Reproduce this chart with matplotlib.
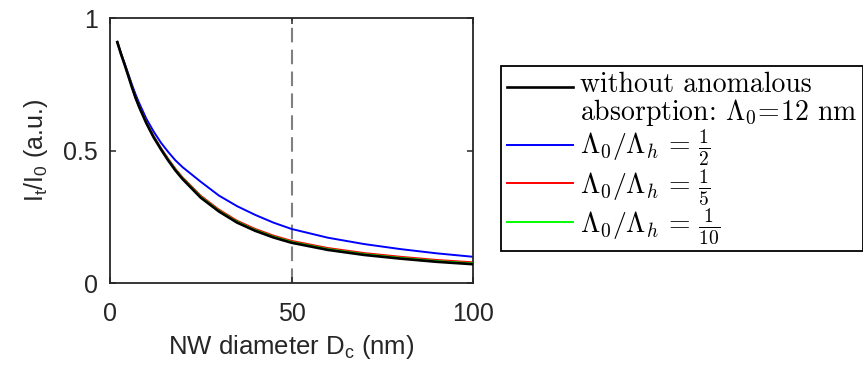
import matplotlib
matplotlib.use('Agg')
import matplotlib.pyplot as plt
from matplotlib.font_manager import FontProperties
from matplotlib.legend_handler import HandlerLine2D

# NW diameter (nm) and transmitted intensity I_t/I_0 for each case
dc = [2, 3, 4, 5, 6, 7, 8, 10, 12, 14, 16, 18, 20, 25, 30, 35, 40, 45, 50, 60, 70, 80, 90, 100]
it_ref = [0.909, 0.865, 0.825, 0.783, 0.740, 0.700, 0.665, 0.603, 0.550, 0.505, 0.463, 0.425,
          0.392, 0.322, 0.270, 0.228, 0.197, 0.172, 0.152, 0.125, 0.106, 0.092, 0.080, 0.071]
it_h2 = [0.910, 0.868, 0.829, 0.790, 0.750, 0.713, 0.680, 0.620, 0.572, 0.530, 0.495, 0.463,
         0.437, 0.382, 0.330, 0.290, 0.257, 0.228, 0.204, 0.171, 0.147, 0.128, 0.112, 0.099]
it_h5 = [0.909, 0.865, 0.826, 0.784, 0.742, 0.702, 0.668, 0.607, 0.555, 0.510, 0.469, 0.431,
         0.398, 0.329, 0.277, 0.235, 0.204, 0.179, 0.159, 0.132, 0.113, 0.099, 0.087, 0.078]
it_h10 = [0.909, 0.865, 0.825, 0.783, 0.741, 0.701, 0.666, 0.605, 0.552, 0.507, 0.466, 0.428,
          0.395, 0.325, 0.273, 0.231, 0.200, 0.175, 0.155, 0.128, 0.109, 0.095, 0.083, 0.074]
d_mark = 50

rotulos = ['without anomalous\n' + r'absorption: $\Lambda_0\!=\!12$ nm',
           r'$\Lambda_0/\Lambda_h\,=\,\frac{1}{2}$',
           r'$\Lambda_0/\Lambda_h\,=\,\frac{1}{5}$',
           r'$\Lambda_0/\Lambda_h\,=\,\frac{1}{10}$']

plt.rcParams['font.family'] = ['Liberation Sans', 'DejaVu Sans']
plt.rcParams['mathtext.fontset'] = 'custom'
plt.rcParams['mathtext.rm'] = 'Liberation Sans'
plt.rcParams['mathtext.it'] = 'Liberation Sans:italic'

cinza = (0.15, 0.15, 0.15)


# traço da legenda alinhado com a primeira linha do rótulo
class TracoTopo(HandlerLine2D):
    def __init__(self, dy, **kw):
        super().__init__(**kw)
        self.dy = dy

    def create_artists(self, legend, orig_handle, xdescent, ydescent, width, height, fontsize, trans):
        arts = super().create_artists(legend, orig_handle, xdescent, ydescent, width, height, fontsize, trans)
        for a in arts:
            a.set_ydata([y + self.dy * fontsize for y in a.get_ydata()])
        return arts


fig = plt.figure(figsize=(8.63, 3.72), dpi=100)
ax = fig.add_axes([0.1275, 0.2392, 0.4206, 0.7124])

# linha tracejada em D_c = 50 nm
ax.axvline(d_mark, color=(0.5, 0.5, 0.5), lw=1.5, dashes=(7, 3.5), zorder=1)

l2, = ax.plot(dc, it_h2, color=(0, 0, 1), lw=1.4, zorder=2)
l5, = ax.plot(dc, it_h5, color=(1, 0, 0), lw=1.4, zorder=2)
l10, = ax.plot(dc, it_h10, color=(0, 1, 0), lw=1.4, zorder=3)
l0, = ax.plot(dc, it_ref, color='k', lw=1.9, zorder=4)

ax.set_xlim(0, 100)
ax.set_ylim(0, 1)
ax.set_xticks([0, 50, 100])
ax.set_yticks([0, 0.5, 1])
ax.set_yticklabels(['0', '0.5', '1'])
ax.tick_params(direction='in', length=4, width=1.1, top=True, right=True,
               labelsize=18, colors=cinza)
ax.tick_params(axis='x', pad=14)
ax.tick_params(axis='y', pad=9)
for s in ax.spines.values():
    s.set_color(cinza)
    s.set_linewidth(1.3)

ax.set_xlabel(r'NW diameter D$_\mathrm{c}$ (nm)', fontsize=18.5, color=cinza, labelpad=5)
ax.set_ylabel(r'I$_\mathrm{t}$/I$_\mathrm{0}$ (a.u.)', fontsize=18, color=cinza, labelpad=9)

# legenda em fonte Computer Modern
fp = FontProperties(family='cmr10', size=20, math_fontfamily='cm')
leg = fig.legend([l0, l2, l5, l10], rotulos, loc='upper left',
                 bbox_to_anchor=(501 / 863, 1 - 66 / 372), prop=fp,
                 fancybox=False, framealpha=1, edgecolor='k',
                 handlelength=2.4, handletextpad=0.25, labelspacing=-0.04,
                 borderpad=0.2, borderaxespad=0,
                 handler_map={l0: TracoTopo(0.5)})
leg.get_frame().set_linewidth(1.3)
leg.get_texts()[0].set_linespacing(0.98)

fig.savefig('out.png', dpi=100)
